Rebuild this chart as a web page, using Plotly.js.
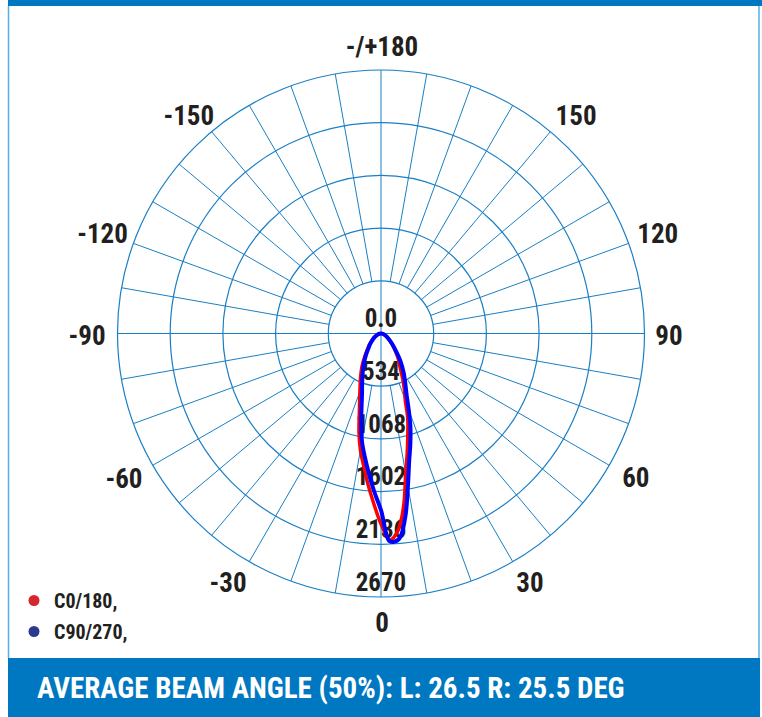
<!DOCTYPE html>
<html>
<head>
<meta charset="utf-8">
<script src="https://cdn.plot.ly/plotly-3.0.1.min.js"></script>
<style>
html,body{margin:0;padding:0;background:#fff;}
#chart{width:762px;height:717px;}
</style>
</head>
<body>
<div id="chart"></div>
<script>
// ---- data (candela values) ----
var thetaC0 = [-90,-80,-70,-60,-50,-45,-40,-35,-30,-25,-20,-17.5,-15,-12.5,-10,-7.5,-5,-2.5,0,2.5,5,7.5,10,12.5,15,17.5,20,22.5,25,30,35,40,45,50,60,70,80,90];
var rC0     = [0,15,40,80,130,170,215,290,385,490,625,720,850,1030,1200,1350,1530,1720,1930,2094,2000,1760,1440,1230,1050,900,720,620,530,380,300,220,165,125,75,40,15,0];

var thetaC90 = [-90,-80,-70,-60,-50,-45,-40,-35,-30,-25,-20,-17.5,-15,-12.5,-10,-7.5,-5,-2.5,0,2.5,5,7.5,10,12.5,15,17.5,20,22.5,25,30,35,40,45,50,60,70,80,90];
var rC90     = [0,15,40,75,125,160,200,265,345,440,560,640,760,930,1110,1260,1420,1600,1790,2110,2090,1880,1570,1320,1150,990,820,680,590,460,345,240,175,125,68,35,12,0];

var seriesNames = ['C0/180,', 'C90/270,'];
var radialTicks = [0, 534, 1068, 1602, 2136, 2670];
var radialTickText = ['0.0', '534', '1068', '1602', '2136', '2670'];
var angleTickText = ['0','30','60','90','120','150','-/+180','-150','-120','-90','-60','-30'];
var footerText = 'AVERAGE BEAM ANGLE (50%): L: 26.5 R: 25.5 DEG';

// ---- layout helpers: where each angle label sits (polar angle in degrees, distance in px from centre) ----
var angleLabelPos = [0.2, 30.6, 60.0, 89.1, 109.3, 137.8, 179.8, 221.8, 250.8, 270.9, 299.85, 328.7];
var angleLabelPx  = [292, 292.7, 294.3, 288, 293.2, 290.4, 284, 288.3, 294.9, 294, 296.3, 294.4];

// ---- styling ----
var GRID = '#1a7fc4';
var INK = '#231f20';
var FONT = '"Roboto Condensed", "Open Sans", sans-serif';
var rMax = radialTicks[radialTicks.length - 1];
var OUTER_PX = 263.5, RANGE_PX = 300;   // pixel radii of the outer circle and of the plot range
var rRange = rMax * RANGE_PX / OUTER_PX;

// spokes every 10 degrees; the main axes go through the centre
var spokeT = [], spokeR = [];
for (var a = 0; a < 360; a += 10) {
  var r0 = (a % 90 === 0) ? 0 : radialTicks[1];
  spokeT.push(a, a, null);
  spokeR.push(r0, rMax, null);
}

var traces = [
  {type:'scatterpolar', mode:'lines', theta:spokeT, r:spokeR, connectgaps:false,
   line:{color:GRID, width:1}, hoverinfo:'skip', showlegend:false},
  {type:'scatterpolar', mode:'text', theta:angleLabelPos,
   r:angleLabelPx.map(function(p){return rMax * p / OUTER_PX;}),
   text:angleTickText, textposition:'middle center', cliponaxis:false,
   textfont:{family:FONT, size:27, color:INK, weight:'bold'}, hoverinfo:'skip', showlegend:false},
  {type:'scatterpolar', mode:'text', theta:radialTicks.map(function(){return 0;}), r:radialTicks,
   text:radialTickText, textposition:'top center', cliponaxis:false,
   textfont:{family:FONT, size:25, color:INK, weight:'bold'}, hoverinfo:'skip', showlegend:false},
  {type:'scatterpolar', mode:'lines', theta:thetaC0, r:rC0, name:seriesNames[0],
   line:{color:'#ff0000', width:3.5, shape:'spline'}, showlegend:false},
  {type:'scatterpolar', mode:'lines', theta:thetaC90, r:rC90, name:seriesNames[1],
   line:{color:'#0000ff', width:4, shape:'spline'}, showlegend:false},
  {type:'scatterpolar', mode:'markers', theta:[null], r:[null], name:seriesNames[0], legendgroup:'a',
   marker:{color:'#d7262e', size:11}, showlegend:true},
  {type:'scatterpolar', mode:'markers', theta:[null], r:[null], name:seriesNames[1], legendgroup:'b',
   marker:{color:'#2b3a8f', size:11}, showlegend:true}
];

function px(x){return x/762;}
function py(y){return 1 - y/717;}
var CX = 381, CY = 333.5;

var layout = {
  width:762, height:717,
  margin:{l:0, r:0, t:0, b:0},
  paper_bgcolor:'#ffffff',
  showlegend:true,
  legend:{x:px(14), y:py(581), xanchor:'left', yanchor:'top', tracegroupgap:2,
          font:{family:FONT, size:20, color:INK, weight:'bold'},
          bgcolor:'rgba(0,0,0,0)', itemwidth:30},
  polar:{
    domain:{x:[px(CX - RANGE_PX), px(CX + RANGE_PX)], y:[py(CY + RANGE_PX), py(CY - RANGE_PX)]},
    bgcolor:'rgba(0,0,0,0)',
    radialaxis:{range:[0, rRange], tickvals:radialTicks.slice(1),
      showticklabels:false, ticks:'', showline:false, gridcolor:GRID, gridwidth:1.2},
    angularaxis:{rotation:-90, direction:'counterclockwise',
      showgrid:false, showline:false, showticklabels:false, ticks:''}
  },
  shapes:[
    {type:'rect', xref:'paper', yref:'paper', x0:px(8), x1:1, y0:py(6), y1:1,
     fillcolor:'#0078c1', line:{width:0}, layer:'below'},
    {type:'line', xref:'paper', yref:'paper', x0:px(8.5), x1:px(8.5), y0:py(658), y1:py(6),
     line:{color:'#5aaee6', width:1.5}},
    {type:'line', xref:'paper', yref:'paper', x0:px(759), x1:px(759), y0:py(658), y1:py(6),
     line:{color:'#5aaee6', width:1.5}},
    {type:'rect', xref:'paper', yref:'paper', x0:px(8), x1:px(760), y0:0, y1:py(658),
     fillcolor:'#0078c1', line:{width:0}, layer:'below'}
  ],
  annotations:[
    {xref:'paper', yref:'paper', x:px(35), y:py(688), xanchor:'left', yanchor:'middle',
     text:footerText, showarrow:false,
     font:{family:FONT, size:29, color:'#ffffff', weight:'bold'}}
  ]
};

Plotly.newPlot('chart', traces, layout, {displayModeBar:false, staticPlot:true});
</script>
</body>
</html>
